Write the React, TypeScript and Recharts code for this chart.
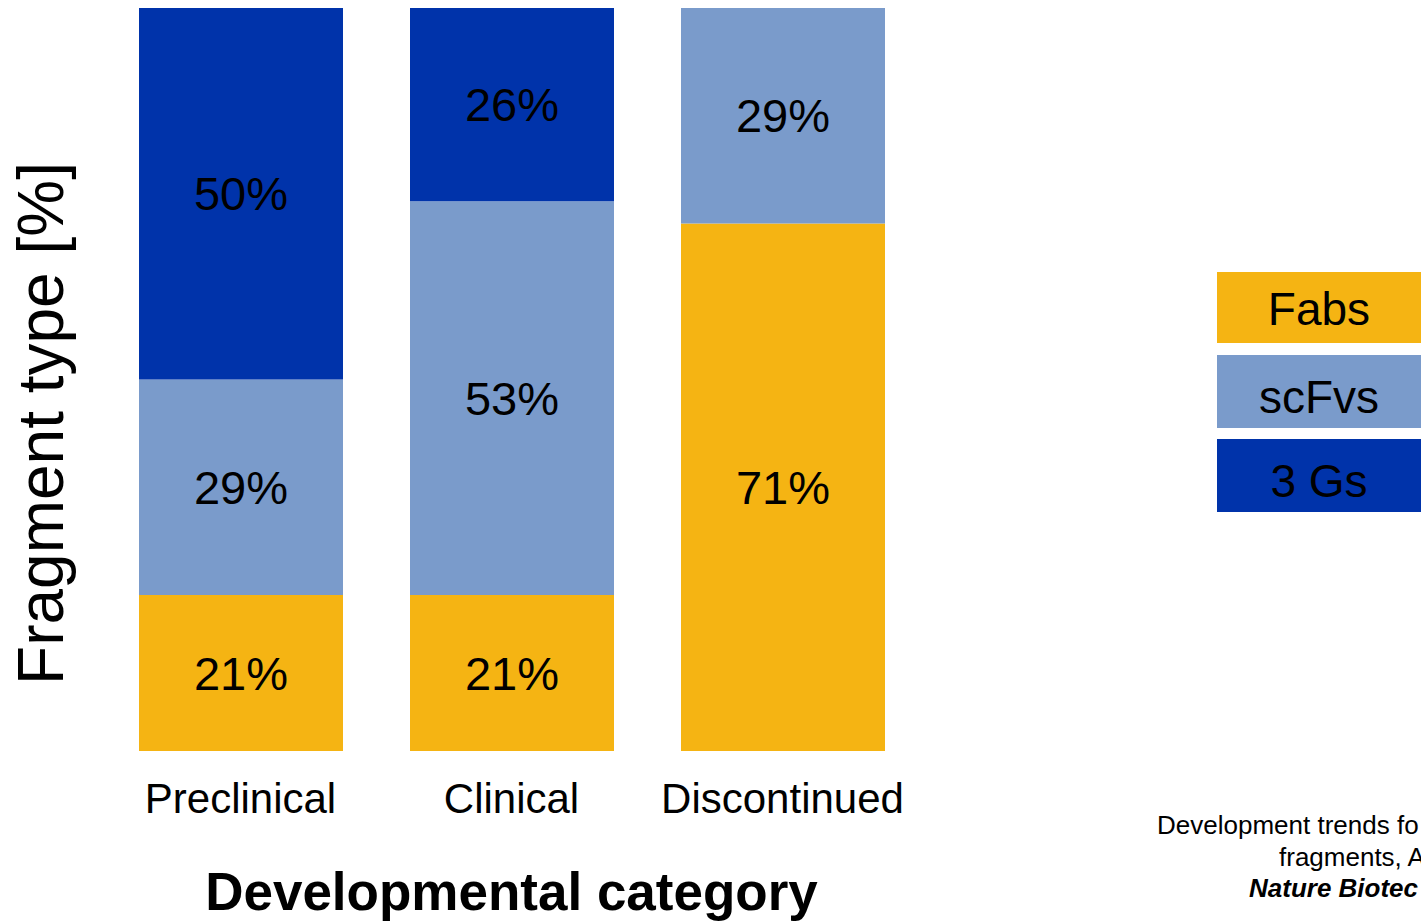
import { BarChart, Bar, XAxis, YAxis, Legend, LabelList, Label } from "recharts"

const categories = ["Preclinical", "Clinical", "Discontinued"]
const fabs = [21, 21, 71]
const scfvs = [29, 53, 29]
const threeGs = [50, 26, 0]

const seriesKeys = ["fabs", "scfvs", "threeGs"]
const seriesNames = ["Fabs", "scFvs", "3 Gs"]
const seriesColors = ["#F5B413", "#7A9BCB", "#0033AA"]

const captionLines = ["Development trends fo", "fragments, A", "Nature Biotec"]

const data = categories.map((category, i) => ({
  category,
  fabs: fabs[i],
  scfvs: scfvs[i],
  threeGs: threeGs[i],
}))

const FONT = "'Liberation Sans', Arial, Helvetica, sans-serif"

const pct = (v: any) => (v ? `${v}%` : "")

const CategoryTick = ({ x, y, payload }: any) => (
  <text x={x} y={y} dy={62} textAnchor="middle" fontSize={42} fill="#000" fontFamily={FONT}>
    {payload.value}
  </text>
)

const YTitle = ({ viewBox }: any) => {
  const x = viewBox.x + 63
  const y = viewBox.y + viewBox.height / 2 + 44
  return (
    <text
      x={x}
      y={y}
      transform={`rotate(-90, ${x}, ${y})`}
      textAnchor="middle"
      fontSize={64}
      fill="#000"
      fontFamily={FONT}
    >
      Fragment type [%]
    </text>
  )
}

// box layout for the legend (height, gap below, text nudge)
const boxHeights = [71, 73, 73]
const boxGaps = [12, 11, 0]
const textNudge = [2, 10, 10]

const LegendBoxes = () => (
  <div style={{ fontFamily: FONT }}>
    {seriesNames.map((name, i) => (
      <div
        key={name}
        style={{
          background: seriesColors[i],
          width: 204,
          height: boxHeights[i],
          marginBottom: boxGaps[i],
          boxSizing: "border-box",
          paddingTop: textNudge[i],
          display: "flex",
          alignItems: "center",
          justifyContent: "center",
          fontSize: 46,
          color: "#000",
          lineHeight: 1,
        }}
      >
        {name}
      </div>
    ))}
  </div>
)

export default function App() {
  return (
    <div
      style={{
        position: "absolute",
        left: 0,
        top: 0,
        width: 1421,
        height: 921,
        overflow: "hidden",
        background: "#fff",
        fontFamily: FONT,
      }}
    >
      <BarChart
        width={1421}
        height={921}
        data={data}
        margin={{ top: 8, right: 503, bottom: 0, left: 0 }}
        barSize={204}
      >
        <XAxis
          dataKey="category"
          height={170}
          axisLine={false}
          tickLine={false}
          tickSize={0}
          tickMargin={0}
          tick={<CategoryTick />}
          interval={0}
        >
          <Label
            value="Developmental category"
            position="insideBottom"
            offset={11}
            fontSize={53}
            fontWeight={700}
            fill="#000"
            fontFamily={FONT}
          />
        </XAxis>
        <YAxis domain={[0, 100]} width={105} axisLine={false} tickLine={false} tick={false}>
          <Label content={<YTitle />} />
        </YAxis>
        <Legend
          layout="horizontal"
          align="center"
          verticalAlign="middle"
          wrapperStyle={{ left: 1217, top: 272, width: 220 }}
          content={() => <LegendBoxes />}
        />
        {seriesKeys.map((key, i) => (
          <Bar
            key={key}
            dataKey={key}
            name={seriesNames[i]}
            stackId="a"
            fill={seriesColors[i]}
            isAnimationActive={false}
          >
            <LabelList
              dataKey={key}
              position="center"
              formatter={pct}
              fontSize={47}
              fill="#000"
              fontFamily={FONT}
            />
          </Bar>
        ))}
      </BarChart>
      <svg
        width={1421}
        height={921}
        style={{ position: "absolute", left: 0, top: 0, pointerEvents: "none" }}
      >
        <text fontFamily={FONT} fontSize={26} fill="#000">
          <tspan x={1157} y={834}>{captionLines[0]}</tspan>
          <tspan x={1279} y={866}>{captionLines[1]}</tspan>
          <tspan x={1249} y={897} fontWeight={700} fontStyle="italic">
            {captionLines[2]}
          </tspan>
        </text>
      </svg>
    </div>
  )
}
